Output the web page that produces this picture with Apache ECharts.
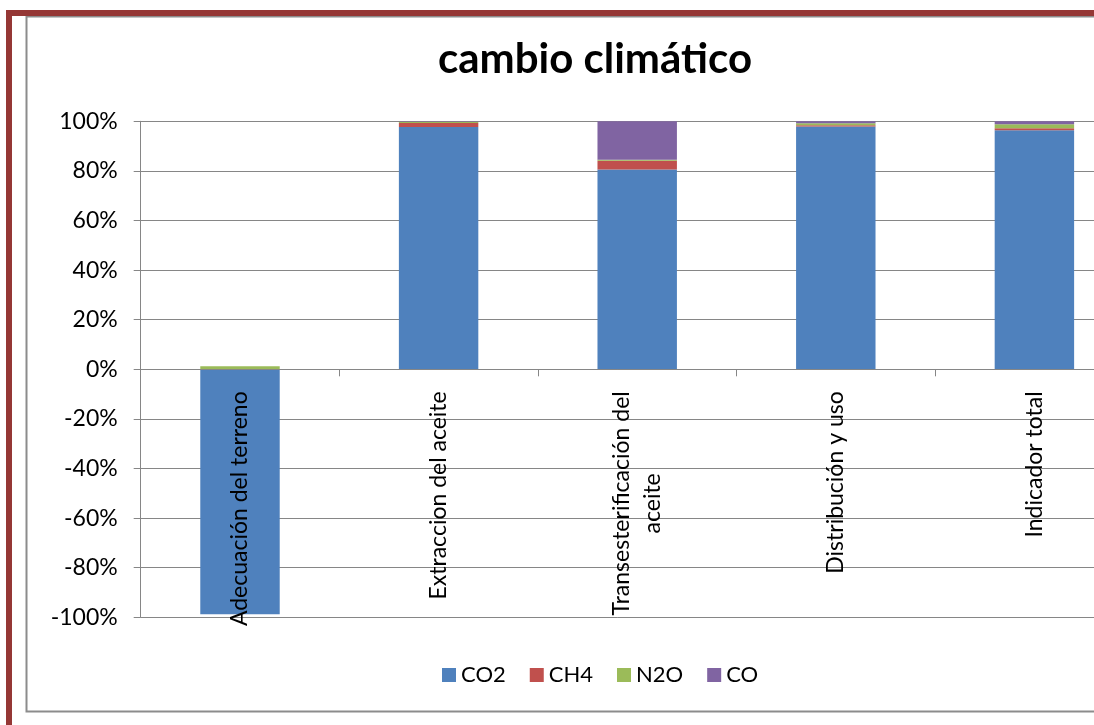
<!DOCTYPE html>
<html>
<head>
<meta charset="utf-8">
<script src="https://cdn.jsdelivr.net/npm/echarts@6/dist/echarts.min.js"></script>
<style>
  html, body { margin: 0; padding: 0; background: #fff; }
  #chart { width: 1094px; height: 725px; }
</style>
</head>
<body>
<div id="chart"></div>
<script>
const categories = ['Adecuación del terreno', 'Extraccion del aceite', 'Transesterificación del\naceite', 'Distribución y uso', 'Indicador total'];
const co2 = [-98.8, 97.7, 80.6, 97.9, 96.4];
const ch4 = [0, 1.6, 3.5, 0.5, 0.8];
const n2o = [1.2, 0.5, 0.4, 0.8, 1.6];
const co  = [0, 0.2, 15.5, 0.8, 1.2];
const seriesNames = ['CO2', 'CH4', 'N2O', 'CO'];
const colors = ['#4F81BD', '#C0504D', '#9BBB59', '#8064A2'];
const chartTitle = 'cambio climático';

const FONT = 'Lato, "Open Sans", sans-serif';
const chart = echarts.init(document.getElementById('chart'));
const values = [co2, ch4, n2o, co];
const GRID_H = 496;

chart.setOption({
  animation: false,
  color: colors,
  textStyle: { fontFamily: FONT, color: '#000' },
  title: {
    text: chartTitle,
    left: 590,
    top: 33,
    textAlign: 'center',
    textStyle: { fontFamily: FONT, fontWeight: 'bold', fontSize: 42, color: '#000' }
  },
  graphic: [
    { type: 'rect', shape: { x: 26.5, y: 16.5, width: 1100, height: 695 }, style: { fill: 'none', stroke: '#8c8c8c', lineWidth: 2 }, silent: true },
    { type: 'rect', shape: { x: 6, y: 10, width: 1100, height: 6 }, style: { fill: '#953735' }, silent: true },
    { type: 'rect', shape: { x: 6, y: 10, width: 6, height: 720 }, style: { fill: '#953735' }, silent: true }
  ],
  legend: {
    data: seriesNames,
    left: 442,
    top: 664,
    padding: 0,
    itemWidth: 14,
    itemHeight: 14,
    itemGap: 24,
    icon: 'rect',
    textStyle: { fontFamily: FONT, fontSize: 22, color: '#000' }
  },
  grid: { left: 140.7, top: 121.3, width: 993, height: GRID_H, containLabel: false, outerBoundsMode: 'none' },
  xAxis: {
    type: 'category',
    data: categories,
    z: 5,
    offset: -GRID_H / 2,
    axisLine: { show: true, onZero: false, lineStyle: { color: '#868686', width: 1 } },
    axisTick: { show: true, length: 7, lineStyle: { color: '#868686' } },
    axisLabel: {
      rotate: 90,
      margin: 22,
      interval: 0,
      fontFamily: FONT,
      fontSize: 23,
      color: '#000',
      lineHeight: 31,
      formatter: function (v) {
        const parts = v.split('\n');
        if (parts.length > 1) {
          return '{a|' + parts[0] + '}\n{c|' + parts[1] + '}';
        }
        return v;
      },
      rich: {
        a: { fontFamily: FONT, fontSize: 23, lineHeight: 31, color: '#000' },
        c: { fontFamily: FONT, fontSize: 23, lineHeight: 31, color: '#000', align: 'center' }
      }
    },
    splitLine: { show: false }
  },
  yAxis: {
    type: 'value',
    min: -100,
    max: 100,
    interval: 20,
    axisLine: { show: true, lineStyle: { color: '#868686', width: 1 } },
    axisTick: { show: true, length: 7, lineStyle: { color: '#868686' } },
    axisLabel: { formatter: '{value}%', margin: 23, fontFamily: FONT, fontSize: 23, color: '#000' },
    splitLine: { show: true, lineStyle: { color: '#868686', width: 1 } }
  },
  series: seriesNames.map((name, i) => ({
    name: name,
    type: 'bar',
    stack: 'total',
    barWidth: '40%',
    data: values[i],
    itemStyle: { color: colors[i] }
  }))
});
</script>
</body>
</html>
